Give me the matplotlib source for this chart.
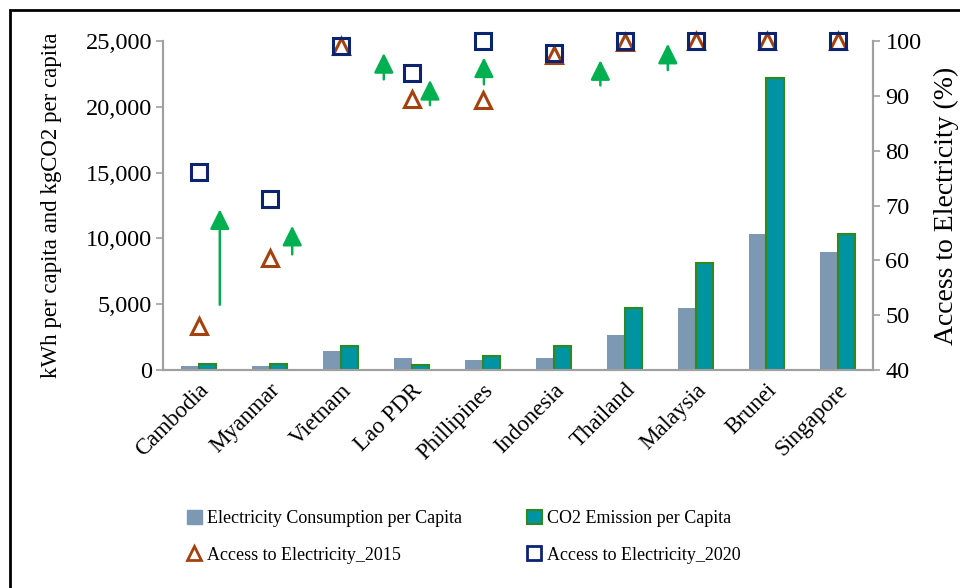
import numpy as np
import matplotlib.pyplot as plt
from matplotlib.patches import Patch, Rectangle
from matplotlib.lines import Line2D

plt.rcParams['font.family'] = ['Liberation Serif', 'DejaVu Serif']

# ASEAN data
countries = ["Cambodia", "Myanmar", "Vietnam", "Lao PDR", "Phillipines",
             "Indonesia", "Thailand", "Malaysia", "Brunei", "Singapore"]
elec_pc = [330, 300, 1470, 890, 780, 890, 2660, 4730, 10310, 8940]
co2_pc = [480, 450, 1850, 380, 1060, 1850, 4690, 8130, 22170, 10360]
access_2015 = [48.0, 60.4, 99.0, 89.4, 89.2, 97.5, 99.8, 100, 100, 100]
access_2020 = [76.1, 71.2, 99.1, 94.1, 100, 97.9, 100, 100, 100, 100]

# green arrows (category position, start %, end %)
arrow_x = [0.30, 1.32, 2.61, 3.26, 4.02, 5.66, 6.61]
arrow_from = [51.9, 61.1, 93.0, 88.3, 92.1, 91.9, 94.7]
arrow_to = [69.3, 66.3, 97.8, 92.9, 97.0, 96.5, 99.5]

c_elec = "#7D98B3"
c_co2 = "#0093A1"
c_co2_edge = "#2F8A1C"
c_2015 = "#A4420F"
c_2020 = "#0A2470"
c_arrow = "#00B050"
c_axis = "#A0A0A0"

fig = plt.figure(figsize=(9.6, 5.88), dpi=100)
ax = fig.add_axes([163/960, 1-370/588, 710/960, 329/588])
ax2 = ax.twinx()

x = np.arange(len(countries))
w = 0.24
ax.bar(x - w/2, elec_pc, w, color=c_elec, zorder=2)
ax.bar(x + w/2, co2_pc, w, color=c_co2, edgecolor=c_co2_edge, linewidth=1.5, zorder=2)

ax2.plot(x, access_2015, linestyle="none", marker="^", markersize=12, clip_on=False,
         markerfacecolor="none", markeredgecolor=c_2015, markeredgewidth=2.2)
ax2.plot(x, access_2020, linestyle="none", marker="s", markersize=12, clip_on=False,
         markerfacecolor="none", markeredgecolor=c_2020, markeredgewidth=2.2)

for xa, y0, y1 in zip(arrow_x, arrow_from, arrow_to):
    ax2.annotate("", xy=(xa, y1), xytext=(xa, y0), annotation_clip=False,
                 arrowprops=dict(arrowstyle="-|>,head_length=0.6,head_width=0.3",
                                 color=c_arrow, lw=1.8, mutation_scale=20,
                                 shrinkA=0, shrinkB=0))

ax.set_xlim(-0.5, len(countries) - 0.5)
ax.set_ylim(0, 25000)
ax.set_yticks(np.arange(0, 25001, 5000))
ax.set_yticklabels([f"{v:,}" for v in range(0, 25001, 5000)])
ax2.set_ylim(40, 100)
ax2.set_yticks(np.arange(40, 101, 10))

ax.set_xticks(x)
ax.set_xticklabels(countries, rotation=45, ha="right", rotation_mode="anchor")
ax.tick_params(axis="x", length=0, labelsize=16.5, pad=7)
ax.tick_params(axis="y", labelsize=17.5, color=c_axis, length=5, width=1.2, pad=3)
ax2.tick_params(axis="y", labelsize=17.5, color=c_axis, length=5, width=1.2, pad=4)

for a in (ax, ax2):
    a.spines["top"].set_visible(False)
    for s in ("left", "right", "bottom"):
        a.spines[s].set_color(c_axis)
        a.spines[s].set_linewidth(1.5)

ax.set_ylabel("kWh per capita and kgCO2 per capita", fontsize=16.5)
ax.yaxis.set_label_coords(-101/710, 0.5)
ax2.set_ylabel("Access to Electricity (%)", fontsize=20)
ax2.yaxis.set_label_coords(1 + 61/710, 0.5)

handles = [
    Patch(facecolor=c_elec, edgecolor=c_elec),
    Line2D([], [], linestyle="none", marker="^", markersize=10, markerfacecolor="none",
           markeredgecolor=c_2015, markeredgewidth=2),
    Patch(facecolor=c_co2, edgecolor=c_co2_edge, linewidth=1.5),
    Line2D([], [], linestyle="none", marker="s", markersize=10, markerfacecolor="none",
           markeredgecolor=c_2020, markeredgewidth=2),
]
labels = ["Electricity Consumption per Capita", "Access to Electricity_2015",
          "CO2 Emission per Capita", "Access to Electricity_2020"]
fig.legend(handles, labels, ncol=2, frameon=False, fontsize=13,
           loc="upper left", bbox_to_anchor=(171/960, 1-494/588),
           handlelength=0.8, handleheight=0.8, handletextpad=0.3,
           columnspacing=3.6, labelspacing=1.05)

# outer frame
fig.patches.append(Rectangle((10/960, -0.1), 1.2, 1.1 - 10/588, transform=fig.transFigure,
                             fill=False, edgecolor="black", linewidth=2, clip_on=False))

fig.savefig("out.png", dpi=100)
